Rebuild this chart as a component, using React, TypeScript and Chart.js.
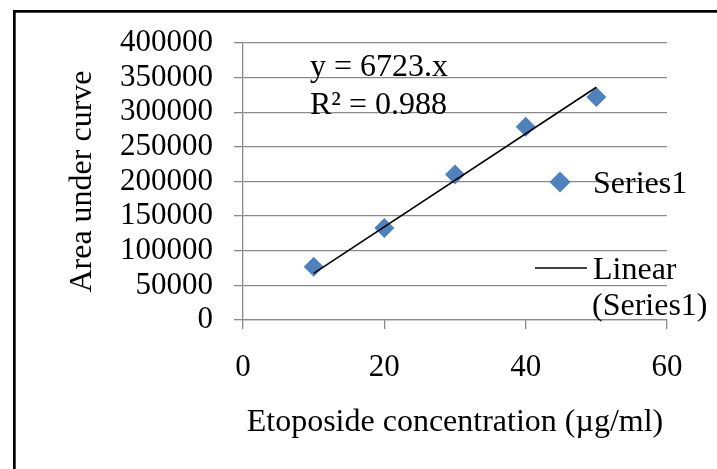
import { useEffect, useRef } from "react";
import { Chart, registerables } from "chart.js";

Chart.register(...registerables);

// ---- data ----
const concentrations = [10, 20, 30, 40, 50];
const areas = [77000, 133000, 210000, 279000, 322000];
const trendX = [10, 50];
const trendY = [67230, 336150];
const xTicks = [0, 20, 40, 60];
const yTicks = [0, 50000, 100000, 150000, 200000, 250000, 300000, 350000, 400000];
const equationLines = ["y = 6723.x", "R² = 0.988"];
const seriesName = "Series1";
const trendNameLines = ["Linear", "(Series1)"];
const xTitle = "Etoposide concentration (µg/ml)";
const yTitle = "Area under curve";

const FAMILY = "'Liberation Serif', 'Times New Roman', serif";
const GRID = "#8a8a8a";
const BLUE = "#4F81BD";

const overlayPlugin = {
  id: "overlay",
  beforeDraw(chart: any) {
    const ctx = chart.ctx;
    ctx.save();
    ctx.fillStyle = "#ffffff";
    ctx.fillRect(0, 0, chart.width, chart.height);
    ctx.fillStyle = "#000000";
    ctx.fillRect(13, 10, chart.width - 13, 2.7);
    ctx.fillRect(13, 10, 2.7, chart.height - 10);
    ctx.restore();
  },
  afterDraw(chart: any) {
    const ctx = chart.ctx;
    const ca = chart.chartArea;
    ctx.save();
    ctx.fillStyle = "#000";
    ctx.font = `32px ${FAMILY}`;
    ctx.textAlign = "left";
    ctx.textBaseline = "alphabetic";
    // equation
    ctx.fillText(equationLines[0], ca.left + 67, ca.top + 33);
    ctx.fillText(equationLines[1], ca.left + 67, ca.top + 71);
    // legend: series
    const lx = ca.right - 107;
    const tx = ca.right - 74;
    const ly = ca.top + 139;
    ctx.fillStyle = BLUE;
    ctx.beginPath();
    ctx.moveTo(lx - 10.5, ly);
    ctx.lineTo(lx, ly - 10.5);
    ctx.lineTo(lx + 10.5, ly);
    ctx.lineTo(lx, ly + 10.5);
    ctx.closePath();
    ctx.fill();
    ctx.fillStyle = "#000";
    ctx.fillText(seriesName, tx, ly + 11);
    // legend: trend
    const ty = ca.top + 225;
    ctx.strokeStyle = "#000";
    ctx.lineWidth = 1.5;
    ctx.beginPath();
    ctx.moveTo(ca.right - 132, ty);
    ctx.lineTo(ca.right - 80, ty);
    ctx.stroke();
    ctx.fillText(trendNameLines[0], tx, ty + 11);
    ctx.fillText(trendNameLines[1], tx - 1, ty + 47);
    ctx.restore();
  },
};

export default function App() {
  const ref = useRef<HTMLCanvasElement | null>(null);

  useEffect(() => {
    if (!ref.current) return;
    const chart = new Chart(ref.current, {
      type: "scatter",
      data: {
        datasets: [
          {
            label: "Linear (Series1)",
            data: trendX.map((x, i) => ({ x, y: trendY[i] })),
            showLine: true,
            borderColor: "#000",
            borderWidth: 1.6,
            pointRadius: 0,
            fill: false,
          } as any,
          {
            label: seriesName,
            data: concentrations.map((x, i) => ({ x, y: areas[i] })),
            pointStyle: "rectRot",
            pointRadius: 10,
            backgroundColor: BLUE,
            borderColor: BLUE,
            borderWidth: 0,
          } as any,
        ],
      },
      options: {
        responsive: false,
        animation: false,
        devicePixelRatio: 1,
        layout: { padding: { top: 43, right: 50, left: 0, bottom: 0 } },
        plugins: {
          legend: { display: false },
          tooltip: { enabled: false },
        },
        scales: {
          x: {
            type: "linear",
            min: 0,
            max: 60,
            afterBuildTicks: (s: any) => {
              s.ticks = xTicks.map((v) => ({ value: v }));
            },
            afterFit: (s: any) => {
              s.height = 149;
            },
            ticks: {
              autoSkip: false,
              maxRotation: 0,
              padding: 20,
              color: "#000",
              font: { family: FAMILY, size: 31 },
              callback: (v: any) => String(v),
            },
            grid: {
              drawOnChartArea: false,
              drawTicks: true,
              tickLength: 9,
              color: GRID,
              lineWidth: 1.3,
            },
            border: { display: true, color: GRID, width: 1.3 },
            title: {
              display: true,
              text: xTitle,
              color: "#000",
              font: { family: FAMILY, size: 32 },
              padding: { top: 0, bottom: 27 },
            },
          },
          y: {
            type: "linear",
            min: 0,
            max: 400000,
            afterBuildTicks: (s: any) => {
              s.ticks = yTicks.map((v) => ({ value: v }));
            },
            afterFit: (s: any) => {
              s.width = 243;
            },
            ticks: {
              autoSkip: false,
              padding: 21,
              color: "#000",
              font: { family: FAMILY, size: 31 },
              callback: (v: any) => String(v),
            },
            grid: {
              drawTicks: true,
              tickLength: 9,
              color: GRID,
              lineWidth: 1.3,
            },
            border: { display: true, color: GRID, width: 1.3 },
            title: {
              display: true,
              text: yTitle,
              color: "#000",
              font: { family: FAMILY, size: 32 },
              padding: { top: 63, bottom: 0 },
            },
          },
        },
      },
      plugins: [overlayPlugin],
    });
    return () => chart.destroy();
  }, []);

  return (
    <div style={{ position: "absolute", left: 0, top: 0, width: 717, height: 469 }}>
      <canvas ref={ref} width={717} height={469} style={{ display: "block", width: 717, height: 469 }} />
    </div>
  );
}
